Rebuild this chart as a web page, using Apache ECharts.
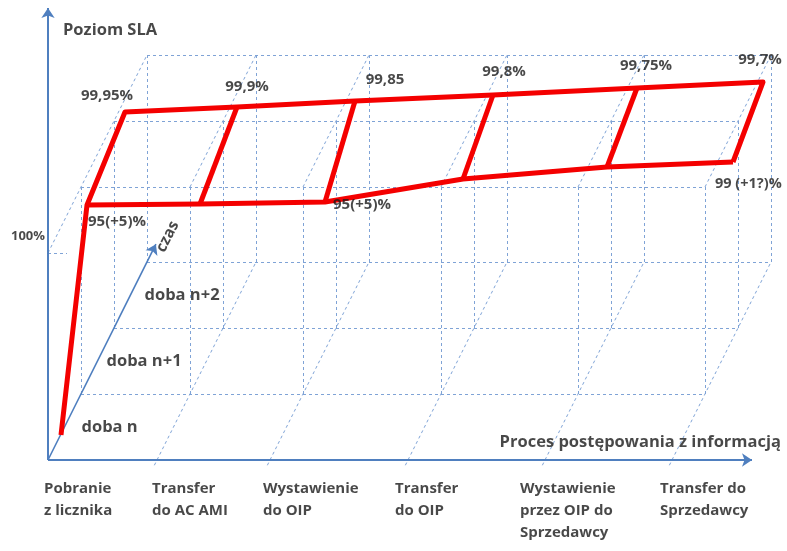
<!DOCTYPE html>
<html><head><meta charset="utf-8">
<script src="https://cdn.jsdelivr.net/npm/echarts@6/dist/echarts.min.js"></script>
<style>html,body{margin:0;padding:0;background:#fff}#c{width:787px;height:551px}</style>
</head><body><div id="c"></div>
<script>
// ---- data ----
const processSteps = ['Pobranie\nz licznika', 'Transfer\ndo AC AMI', 'Wystawienie\ndo OIP', 'Transfer\ndo OIP', 'Wystawienie\nprzez OIP do\nSprzedawcy', 'Transfer do\nSprzedawcy'];
const stepPos = [0, 109, 222, 360, 497, 624];
const dayLabels = ['doba n', 'doba n+1', 'doba n+2'];
const depthLevels = [1, 2, 3];
const fullLevel = 207;              // height of the 100% plane
const fullLabel = '100%';
const slaTargetLabels = ['99,95%', '99,9%', '99,85', '99,8%', '99,75%', '99,7%'];
const slaTargetPos = [77, 189, 307, 445, 589, 715];
const slaTargetLevel = [348, 353, 359, 365, 372, 378];
const slaBaseLabels = ['95(+5)%', '', '95(+5)%', '', '', '99 (+1?)%'];
const slaBasePos = [39, 152, 277, 415, 559, 685];
const slaBaseLevel = [255, 256, 258, 281, 293, 298];
const ribbonStart = [13, 25];
const titleY = 'Poziom SLA';
const titleX = 'Proces postępowania z informacją';
const titleZ = 'czas';

// ---- layout / style ----
const DX = 33, DY = 66;                 // oblique projection of one day of depth
const P = (pos, d, h) => [pos + DX * d, DY * d + h];
const FONT = '"Open Sans"';
const TXT = '#1a1a1a';
const AXIS = '#4f7fbf';
const GRIDC = '#7fa3d6';
const RED = '#f40000';

const last = stepPos[stepPos.length - 1];
const gridSegs = [];
depthLevels.forEach(d => {
  gridSegs.push([P(0, d, 0), P(last, d, 0)]);
  gridSegs.push([P(0, d, fullLevel), P(last, d, fullLevel)]);
});
gridSegs.push([P(0, 0, fullLevel), P(19, 0, fullLevel)]);
stepPos.forEach((x, c) => {
  depthLevels.forEach(d => gridSegs.push([P(x, d, 0), P(x, d, fullLevel)]));
  if (c > 0) gridSegs.push([P(x, -0.08, 0), P(x, 3, 0)]);
  gridSegs.push([P(x, c === 0 ? 0 : 1, fullLevel), P(x, 3, fullLevel)]);
});

// red ribbon
const topEdge = slaTargetPos.map((x, i) => [x, slaTargetLevel[i]]);
const baseEdge = slaBasePos.map((x, i) => [x, slaBaseLevel[i]]);
const redPaths = [];
redPaths.push([ribbonStart, baseEdge[0], topEdge[0]].concat(topEdge.slice(1), [baseEdge[baseEdge.length - 1]]));
redPaths.push(baseEdge.slice());
for (let i = 1; i < topEdge.length - 1; i++) redPaths.push([baseEdge[i], topEdge[i]]);

// annotations
const ann = [];
function lab(pt, text, o) {
  ann.push({ value: pt, label: Object.assign({ show: true, formatter: text, position: 'inside',
    fontFamily: FONT, fontWeight: 'bold', fontSize: 15, color: TXT, align: 'center', verticalAlign: 'middle' }, o) });
}
const topNudge = [[-18, -16], [10, -20], [30, -21], [11, -23], [9, -22], [-3, -22]];
slaTargetLabels.forEach((t, i) => lab(topEdge[i], t, { offset: topNudge[i] }));
const baseNudge = [[1, 17, 'left'], null, [8, 3, 'left'], null, null, [-18, 22, 'left']];
slaBaseLabels.forEach((t, i) => { if (t) lab(baseEdge[i], t, { offset: [baseNudge[i][0], baseNudge[i][1]], align: baseNudge[i][2], fontSize: i === 5 ? 14.5 : 15 }); });
const dayNudge = [17, 9, 14];
dayLabels.forEach((t, i) => lab(P(0, i + 0.5, 0), t, { offset: [dayNudge[i], 0], align: 'left', fontSize: 16.5 }));
const stepNudge = [-4, -5, -7, -13, -25, -12];
processSteps.forEach((t, i) => lab([stepPos[i], 0], t, { offset: [stepNudge[i], 18], align: 'left', verticalAlign: 'top', lineHeight: 22, fontSize: 15 }));
lab(P(0, 0, fullLevel), fullLabel, { offset: [-3, -17], align: 'right', fontSize: 13 });
lab([0, 430], titleY, { offset: [15, 0], align: 'left', fontSize: 16.5 });
lab([last + 110, 0], titleX, { offset: [-1, -18], align: 'right', fontSize: 16.5 });
lab(P(0, 3.27, 0), titleZ, { offset: [12, 7], rotate: 63, fontSize: 15.5 });

const chart = echarts.init(document.getElementById('c'));
chart.setOption({
  animation: false,
  grid: { left: 0, right: 0, top: 0, bottom: 0 },
  xAxis: { type: 'value', min: -48, max: 739, show: false },
  yAxis: { type: 'value', min: -91, max: 460, show: false },
  series: [
    { type: 'lines', coordinateSystem: 'cartesian2d', silent: true, z: 1,
      lineStyle: { color: GRIDC, width: 1, type: [3, 3], opacity: 1 },
      data: gridSegs.map(s => ({ coords: s })) },
    { type: 'lines', coordinateSystem: 'cartesian2d', silent: true, z: 3,
      symbol: ['none', 'arrow'], symbolSize: 10,
      lineStyle: { color: AXIS, width: 2, opacity: 1 },
      data: [
        { coords: [[0, 0], [0, 452]] },
        { coords: [[0, 0], [last + 80, 0]] },
        { coords: [P(0, 0, 0), P(0, 3.27, 0)], lineStyle: { width: 1.6 } }
      ] },
    { type: 'lines', coordinateSystem: 'cartesian2d', polyline: true, silent: true, z: 4,
      lineStyle: { color: RED, width: 5, opacity: 1, join: 'round' },
      data: redPaths.map(p => ({ coords: p })) },
    { type: 'scatter', symbolSize: 0, silent: true, z: 5, data: ann }
  ]
});
</script></body></html>
